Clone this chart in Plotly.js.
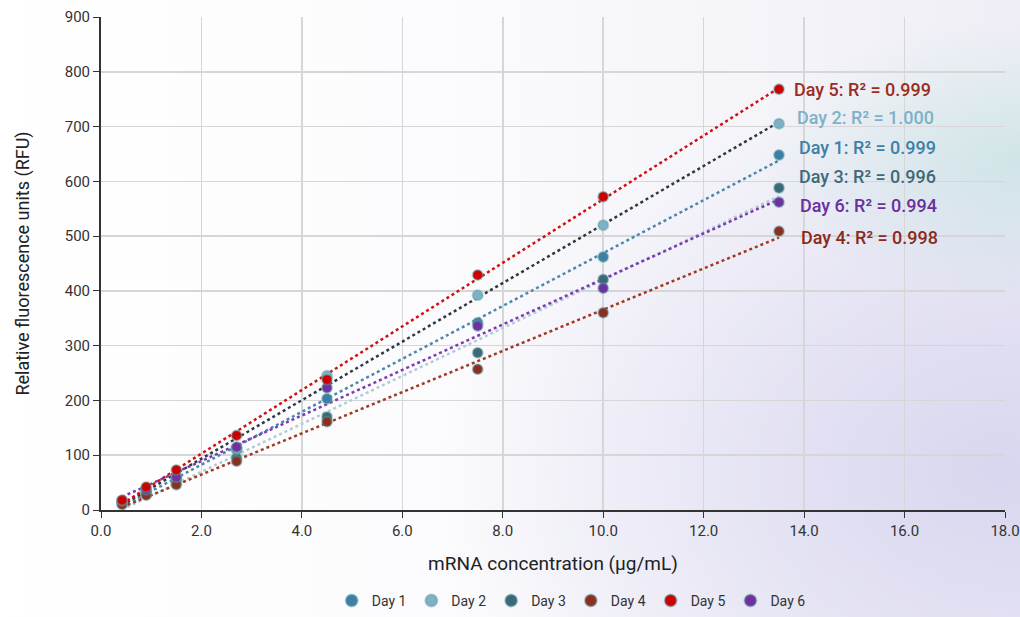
<!DOCTYPE html>
<html><head><meta charset="utf-8">
<script src="https://cdn.plot.ly/plotly-3.0.1.min.js"></script>
<style>
html,body{margin:0;padding:0;}
body{width:1020px;height:617px;overflow:hidden;
background:
radial-gradient(ellipse 380px 200px at 1020px 160px, rgba(190,226,222,0.6), rgba(190,226,222,0) 70%),
radial-gradient(ellipse 700px 480px at 1000px 470px, rgba(214,212,238,0.9), rgba(214,212,238,0) 80%),
linear-gradient(90deg,#ffffff 0%,#fbfbfd 45%,#efeef6 100%);}
#chart{width:1020px;height:617px;}
</style></head>
<body><div id="chart"></div>
<script>
const concentration = [0.42, 0.9, 1.5, 2.7, 4.5, 7.5, 10, 13.5];
const day1 = [15, 33, 57, 110, 203, 342, 462, 648];
const day2 = [16, 36, 60, 112, 245, 392, 520, 705];
const day3 = [12, 30, 50, 95, 170, 287, 421, 588];
const day4 = [10, 27, 46, 89, 161, 257, 360, 509];
const day5 = [18, 42, 73, 136, 238, 429, 572, 768];
const day6 = [17, 37, 60, 115, 223, 336, 405, 562];
const seriesNames = ["Day 1","Day 2","Day 3","Day 4","Day 5","Day 6"];
const r2Labels = ["Day 1: R² = 0.999","Day 2: R² = 1.000","Day 3: R² = 0.996","Day 4: R² = 0.998","Day 5: R² = 0.999","Day 6: R² = 0.994"];
const labelY = [661, 717, 608, 498, 768, 555];
const labelX = [13.86, 13.81, 13.86, 13.9, 13.76, 13.88];

const values = [day1, day2, day3, day4, day5, day6];
const markerColors = ["#3f7fa6","#7fb0c8","#3c6878","#8b3020","#cc0000","#7030a0"];
const lineColors = ["#4a88ad","#2b3a42","#b3cbd8","#a03a25","#d01010","#7a3cb0"];
const textColors = ["#3f7fa6","#7fb0c8","#3e6a78","#8b2a1a","#9b2c1f","#6a2fa0"];

function fit(xs, ys){
  const n = xs.length;
  const mx = xs.reduce((a,b)=>a+b,0)/n, my = ys.reduce((a,b)=>a+b,0)/n;
  let sxy=0, sxx=0;
  for(let i=0;i<n;i++){sxy+=(xs[i]-mx)*(ys[i]-my); sxx+=(xs[i]-mx)*(xs[i]-mx);}
  const m = sxy/sxx; return {m:m, b:my-m*mx};
}

const traces = [];
const order = [2,0,1,3,5,4];
order.forEach(i=>{
  const f = fit(concentration, values[i]);
  const x0 = concentration[0], x1 = concentration[concentration.length-1];
  traces.push({x:[x0,x1], y:[f.m*x0+f.b, f.m*x1+f.b], mode:'lines', showlegend:false, hoverinfo:'skip',
    line:{color:lineColors[i], width:2.5, dash:'dot'}});
});
order.forEach(i=>{
  traces.push({x:concentration, y:values[i], mode:'markers', name:seriesNames[i], legendrank:i+1,
    marker:{color:markerColors[i], size:10, line:{color:'rgba(90,160,160,0.45)', width:2}}});
});

const annotations = seriesNames.map((n,i)=>({x:labelX[i], y:labelY[i], xref:'x', yref:'y', text:r2Labels[i],
  showarrow:false, xanchor:'left', yanchor:'middle', font:{family:'Roboto, sans-serif', size:18, weight:500, color:textColors[i]}}));

const layout = {
  width:1020, height:617,
  margin:{l:101, r:15, t:17, b:107},
  paper_bgcolor:'rgba(0,0,0,0)', plot_bgcolor:'rgba(0,0,0,0)',
  font:{family:'Roboto, sans-serif', color:'#333'},
  xaxis:{range:[0,18], dtick:2, tick0:0, tickformat:'.1f', showgrid:true, gridcolor:'#d6d6d9', gridwidth:1.5,
    automargin:false,
    zeroline:false, showline:true, linecolor:'#333', linewidth:2, ticks:'outside', ticklen:6, tickcolor:'#333',
    tickfont:{size:15, color:'#333'},
    title:{text:'mRNA concentration (µg/mL)', font:{size:19, color:'#222'}, standoff:18}},
  yaxis:{range:[0,900], dtick:100, showgrid:true, gridcolor:'#d6d6d9', gridwidth:1.5,
    automargin:false,
    zeroline:false, showline:true, linecolor:'#333', linewidth:2, ticks:'outside', ticklen:6, tickcolor:'#333',
    tickfont:{size:15, color:'#333'},
    title:{text:'Relative fluorescence units (RFU)', font:{size:18, color:'#222'}, standoff:30}},
  showlegend:true,
  legend:{orientation:'h', x:0.56, xanchor:'center', xref:'container', y:-0.022, yanchor:'bottom', yref:'container',
    font:{size:14, color:'#333'}, itemsizing:'constant',
    traceorder:'normal', itemwidth:30, bgcolor:'rgba(0,0,0,0)'},
  annotations:annotations
};
Plotly.newPlot('chart', traces, layout, {displayModeBar:false, staticPlot:true});
</script></body></html>
